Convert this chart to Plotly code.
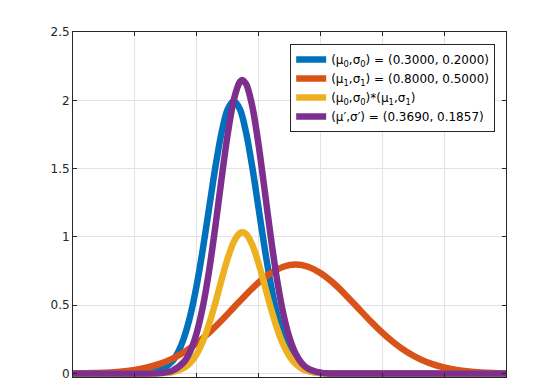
import plotly.graph_objects as go

# ---- data ----
x_orange = [-1.0, -0.9, -0.8, -0.7, -0.6, -0.5, -0.4, -0.3, -0.2, -0.1, 0.0, 0.1,
            0.2, 0.3, 0.4, 0.5, 0.6, 0.7, 0.8, 0.9, 1.0, 1.1, 1.2, 1.3, 1.4, 1.5,
            1.6, 1.7, 1.8, 1.9, 2.0, 2.1, 2.2, 2.3, 2.4, 2.5]
y_orange = [0.0012, 0.0025, 0.0048, 0.0089, 0.0158, 0.0272, 0.0448, 0.0710, 0.1080,
            0.1579, 0.2218, 0.2995, 0.3884, 0.4839, 0.5794, 0.6665, 0.7366, 0.7821,
            0.7979, 0.7821, 0.7366, 0.6665, 0.5794, 0.4839, 0.3884, 0.2995, 0.2218,
            0.1579, 0.1080, 0.0710, 0.0448, 0.0272, 0.0158, 0.0089, 0.0048, 0.0025]

x_blue = [-1.0, -0.6, -0.5, -0.4, -0.3, -0.2, -0.15, -0.1, -0.05, 0.0, 0.05, 0.1,
          0.15, 0.2, 0.25, 0.3, 0.35, 0.4, 0.45, 0.5, 0.55, 0.6, 0.65, 0.7, 0.75,
          0.8, 0.9, 1.0, 1.1, 1.2, 1.6, 2.5]
y_blue = [0, 0.0001, 0.0007, 0.0044, 0.0222, 0.0876, 0.1587, 0.2700, 0.4315, 0.6480,
          0.9130, 1.2100, 1.5060, 1.7600, 1.9330, 1.9947, 1.9330, 1.7600, 1.5060,
          1.2100, 0.9130, 0.6480, 0.4315, 0.2700, 0.1587, 0.0876, 0.0222, 0.0044,
          0.0007, 0.0001, 0, 0]

x_post = [-1.0, -0.5, -0.4, -0.3, -0.2, -0.1, -0.05, 0.0, 0.05, 0.1, 0.15, 0.2,
          0.25, 0.3, 0.35, 0.37, 0.4, 0.45, 0.5, 0.55, 0.6, 0.65, 0.7, 0.75, 0.8,
          0.85, 0.9, 1.0, 1.1, 1.2, 1.6, 2.5]
y_product = [0, 0, 0.0002, 0.0016, 0.0095, 0.0426, 0.0811, 0.1436, 0.2366, 0.3623,
             0.5162, 0.6837, 0.8421, 0.9654, 1.029, 1.034, 1.020, 0.9404, 0.8065,
             0.6433, 0.4771, 0.3292, 0.2112, 0.1261, 0.0701, 0.0361, 0.0173, 0.0032,
             0.0004, 0.0, 0, 0]
y_purple = [0, 0, 0.0004, 0.0033, 0.0197, 0.0885, 0.1684, 0.2983, 0.4913, 0.7525,
            1.072, 1.420, 1.749, 2.005, 2.137, 2.148, 2.118, 1.953, 1.675, 1.336,
            0.9909, 0.6837, 0.4386, 0.2619, 0.1455, 0.0750, 0.0360, 0.0067, 0.0009,
            0.0001, 0, 0]

names = [
    "(μ<sub>0</sub>,σ<sub>0</sub>) = (0.3000, 0.2000)",
    "(μ<sub>1</sub>,σ<sub>1</sub>) = (0.8000, 0.5000)",
    "(μ<sub>0</sub>,σ<sub>0</sub>)*(μ<sub>1</sub>,σ<sub>1</sub>)",
    "(μ′,σ′) = (0.3690, 0.1857)",
]
colors = ["#0072BD", "#D95319", "#EDB120", "#7E2F8E"]
y_ticks = [0, 0.5, 1, 1.5, 2, 2.5]
x_ticks = [-1.0, -0.5, 0.0, 0.5, 1.0, 1.5, 2.0, 2.5]

series = [(x_blue, y_blue), (x_orange, y_orange), (x_post, y_product), (x_post, y_purple)]

fig = go.Figure()
for (xs, ys), nm, c in zip(series, names, colors):
    fig.add_trace(go.Scatter(x=xs, y=ys, name=nm, mode="lines",
                             line=dict(color=c, width=6.5, shape="spline", smoothing=0.8)))

axis_common = dict(showline=True, linecolor="#262626", linewidth=1, mirror="ticks",
                   ticks="inside", ticklen=4, tickcolor="#262626", automargin=False,
                   showgrid=True, gridcolor="#e3e3e3", gridwidth=1, zeroline=False)

fig.update_layout(
    width=560, height=380,
    margin=dict(l=73, r=54, t=32, b=3),
    paper_bgcolor="white", plot_bgcolor="white",
    font=dict(family="DejaVu Sans", size=12, color="#262626"),
    xaxis=dict(range=[-1, 2.5], tickvals=x_ticks, showticklabels=False, **axis_common),
    yaxis=dict(range=[-0.025, 2.5], tickvals=y_ticks, ticklabeloverflow="allow",
               **axis_common),
    legend=dict(x=0.975, y=0.965, xanchor="right", yanchor="top",
                bgcolor="white", bordercolor="#262626", borderwidth=1,
                font=dict(family="DejaVu Sans", size=12, color="#000000"),
                itemwidth=30, tracegroupgap=0),
    showlegend=True,
)

fig.write_html("out.html", config={"displayModeBar": False},
               post_script="document.body.style.margin='0';")
